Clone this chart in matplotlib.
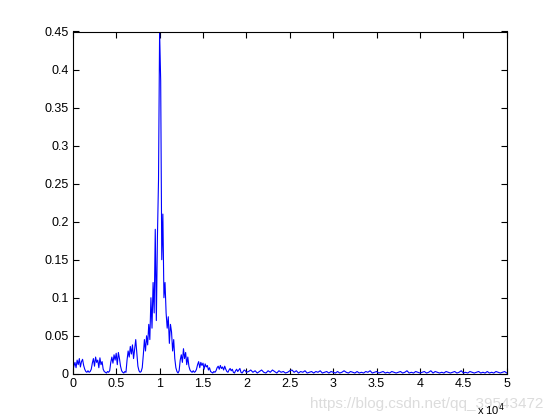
import numpy as np
import matplotlib
matplotlib.use("Agg")
from matplotlib import pyplot as plt
import matplotlib.ticker as mticker

plt.rcParams['font.family'] = ['Liberation Sans', 'DejaVu Sans']

# spectrum amplitude, 0 - 20000 Hz, one value every 125 Hz
amp_low = [0.003, 0.010, 0.015, 0.008, 0.018, 0.012, 0.020, 0.009, 0.016, 0.019, 0.011, 0.006,
           0.003, 0.002, 0.004, 0.002, 0.003, 0.006,
           0.014, 0.020, 0.010, 0.022, 0.015, 0.018, 0.008, 0.021, 0.012, 0.016, 0.006, 0.003,
           0.002, 0.001, 0.003, 0.002, 0.004,
           0.015, 0.022, 0.014, 0.025, 0.018, 0.027, 0.012, 0.028, 0.020, 0.010,
           0.004, 0.002, 0.001, 0.003, 0.002,
           0.018, 0.030, 0.022, 0.036, 0.026, 0.038, 0.020, 0.033, 0.045, 0.028,
           0.010, 0.004, 0.002, 0.003, 0.008,
           0.025, 0.045, 0.030, 0.050, 0.038, 0.065, 0.045, 0.100, 0.060,
           0.120, 0.080, 0.190, 0.070, 0.180, 0.255,
           0.450,
           0.385,
           0.150, 0.210, 0.100, 0.120, 0.080,
           0.060, 0.075, 0.040, 0.065, 0.055, 0.030, 0.045, 0.020,
           0.008, 0.003, 0.001, 0.004,
           0.018, 0.025, 0.015, 0.033, 0.020, 0.028, 0.012, 0.022, 0.010, 0.005,
           0.003, 0.002, 0.004, 0.002, 0.003, 0.006,
           0.012, 0.016, 0.008, 0.015, 0.011, 0.014, 0.006, 0.013, 0.009, 0.011, 0.005, 0.008,
           0.003, 0.002, 0.001, 0.003, 0.002, 0.004,
           0.008, 0.010, 0.006, 0.011, 0.007, 0.009, 0.005, 0.010, 0.006, 0.003,
           0.002, 0.005, 0.007, 0.004, 0.006, 0.002, 0.001, 0.004, 0.006, 0.003,
           0.005, 0.007, 0.002, 0.001, 0.003, 0.005, 0.004, 0.002]

# 20250 - 50000 Hz, one value every 250 Hz
amp_high = [0.003, 0.005, 0.002, 0.004, 0.001, 0.003, 0.005, 0.002, 0.001, 0.004,
            0.002, 0.005, 0.003, 0.001, 0.004, 0.002, 0.003, 0.001, 0.002, 0.004,
            0.005, 0.002, 0.004, 0.001, 0.003, 0.002, 0.004, 0.001, 0.002, 0.003,
            0.001, 0.003, 0.002, 0.004, 0.001, 0.002, 0.003, 0.001, 0.003, 0.002,
            0.001, 0.003, 0.001, 0.002, 0.004, 0.002, 0.001, 0.003, 0.002, 0.001,
            0.003, 0.001, 0.002, 0.001, 0.003, 0.002, 0.004, 0.001, 0.002, 0.003,
            0.001, 0.002, 0.003, 0.001, 0.002, 0.001, 0.003, 0.002, 0.001, 0.002,
            0.003, 0.001, 0.002, 0.004, 0.001, 0.002, 0.001, 0.003, 0.002, 0.001,
            0.002, 0.003, 0.001, 0.002, 0.004, 0.001, 0.003, 0.002, 0.001, 0.002,
            0.001, 0.003, 0.002, 0.001, 0.002, 0.003, 0.001, 0.002, 0.004, 0.001,
            0.002, 0.001, 0.003, 0.002, 0.001, 0.002, 0.003, 0.001, 0.002, 0.001,
            0.003, 0.001, 0.002, 0.001, 0.003, 0.002, 0.001, 0.002, 0.003, 0.001]

freq_low = np.arange(len(amp_low)) * 125.0
freq_high = 20000.0 + np.arange(1, len(amp_high) + 1) * 250.0
freq = np.concatenate([freq_low, freq_high])
amp = np.array(amp_low + amp_high)

xticks = np.arange(0, 50001, 5000)
yticks = np.arange(0, 0.451, 0.05)
ytick_labels = ['0', '0.05', '0.1', '0.15', '0.2', '0.25', '0.3', '0.35', '0.4', '0.45']

fig = plt.figure(figsize=(5.6, 4.2), dpi=100)
ax = fig.add_axes([0.13, 0.11, 0.775, 0.815])
ax.plot(freq, amp, color='#0000ff', linewidth=0.8)

ax.set_xlim(0, 50000)
ax.set_ylim(0, 0.45)
ax.set_xticks(xticks)
ax.xaxis.set_major_formatter(mticker.FuncFormatter(lambda v, p: '%g' % (v / 1e4)))
ax.set_yticks(yticks)
ax.set_yticklabels(ytick_labels)
ax.tick_params(direction='in', length=4, width=0.8, top=True, right=True,
               labelsize=9, pad=3)
for s in ax.spines.values():
    s.set_linewidth(0.8)

# watermark sits behind the exponent label, as in the source image
fig.text(0.553, 0.028, 'https://blog.csdn.net/qq_39543472', fontsize=11,
         color='#dcdcdc', zorder=0)
fig.text(0.852, 0.012, r'x 10$^{4}$', fontsize=8, zorder=5)

fig.savefig('out.png', dpi=100)
